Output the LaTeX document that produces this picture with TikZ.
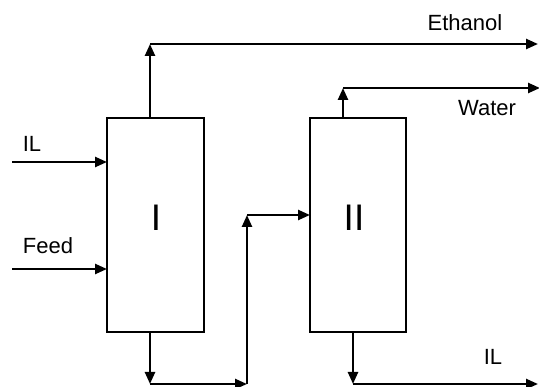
\documentclass[tikz,border=0pt]{standalone}
\usepackage{fontspec}
\setmainfont{Liberation Sans}
\usetikzlibrary{arrows.meta}
\begin{document}
\begin{tikzpicture}[x=1pt,y=-1pt,
  column/.style={draw,line width=1.3pt,minimum width=97pt,minimum height=214pt,inner sep=0pt,outer sep=0pt},
  stream/.style={line width=2.4pt,-{Triangle[length=12pt,width=10pt]}},
  lbl/.style={font=\fontsize{22}{24}\selectfont,inner sep=0pt},
  big/.style={font=\fontsize{37}{40}\selectfont,inner sep=0pt}]
\useasboundingbox (0,0) rectangle (539,387);
\node[column] (c1) at (155.5,225) {};
\node[column,minimum width=96pt] (c2) at (358,225) {};
\node[big] (l1) at (156,218) {I};
\node[big] (l2) at (354,218) {II};
% coordinates
\coordinate (t1) at (150,118);
\coordinate (t1c) at (150,44);
\coordinate (eth) at (538,44);
\coordinate (t2) at (343,118);
\coordinate (t2c) at (343,88);
\coordinate (wat) at (540,88);
\coordinate (ilin) at (12,162);
\coordinate (ilinE) at (107,162);
\coordinate (fin) at (12,269);
\coordinate (finE) at (107,269);
\coordinate (b1) at (150,332);
\coordinate (b1c) at (150,384);
\coordinate (r1) at (247,384);
\coordinate (r1t) at (247,215);
\coordinate (in2) at (310,215);
\coordinate (b2) at (353,332);
\coordinate (b2c) at (353,384);
\coordinate (ilout) at (538,384);
% streams
\draw[stream] (t1) -- (t1c);
\draw[stream] (t1c) -- (eth);
\draw[stream] (t2) -- (t2c);
\draw[stream] (t2c) -- (wat);
\draw[stream] (ilin) -- (ilinE);
\draw[stream] (fin) -- (finE);
\draw[stream] (b1) -- (b1c);
\draw[stream] (b1c) -- (r1);
\draw[stream] (r1) -- (r1t);
\draw[stream] (r1t) -- (in2);
\draw[stream] (b2) -- (b2c);
\draw[stream] (b2c) -- (ilout);
% labels
\node[lbl] (tEth) at (465,23) {Ethanol};
\node[lbl] (tWat) at (487,108) {Water};
\node[lbl] (tIL1) at (32,144) {IL};
\node[lbl] (tFeed) at (48,246) {Feed};
\node[lbl] (tIL2) at (493,357) {IL};
\end{tikzpicture}
\end{document}
